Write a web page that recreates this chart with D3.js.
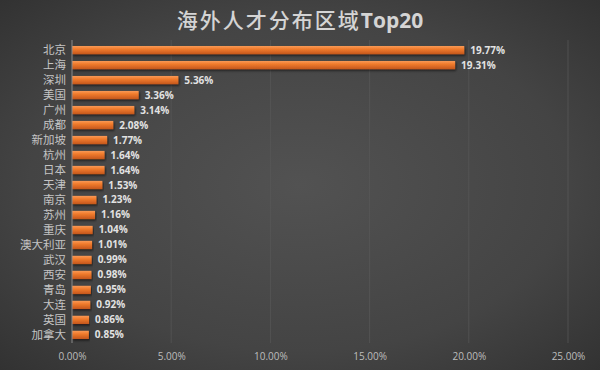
<!DOCTYPE html>
<html><head><meta charset="utf-8">
<script src="https://cdn.jsdelivr.net/npm/d3@7"></script>
<style>html,body{margin:0;padding:0;background:#333;}svg{display:block;}</style>
</head><body>
<svg id="c" width="600" height="370"></svg>
<script>
const categories = ["北京","上海","深圳","美国","广州","成都","新加坡","杭州","日本","天津","南京","苏州","重庆","澳大利亚","武汉","西安","青岛","大连","英国","加拿大"];
const values = [19.77,19.31,5.36,3.36,3.14,2.08,1.77,1.64,1.64,1.53,1.23,1.16,1.04,1.01,0.99,0.98,0.95,0.92,0.86,0.85];
const tickValues = [0,5,10,15,20,25];
const titleCJK = "海外人才分布区域";
const titleLatin = "Top20";

const W = 600, H = 370;
const svg = d3.select("#c");
const defs = svg.append("defs");
const rg = defs.append("radialGradient").attr("id","bg").attr("cx","50%").attr("cy","50%").attr("r","75%");
rg.append("stop").attr("offset","0%").attr("stop-color","#525252");
rg.append("stop").attr("offset","60%").attr("stop-color","#444444");
rg.append("stop").attr("offset","100%").attr("stop-color","#2f2f2f");
svg.append("rect").attr("width",W).attr("height",H).attr("fill","url(#bg)");

const bg = defs.append("linearGradient").attr("id","bar").attr("x1","0").attr("y1","0").attr("x2","0").attr("y2","1");
bg.append("stop").attr("offset","0%").attr("stop-color","#f89a58");
bg.append("stop").attr("offset","35%").attr("stop-color","#f27d2e");
bg.append("stop").attr("offset","100%").attr("stop-color","#c4561c");

const f = defs.append("filter").attr("id","sh").attr("x","-5%").attr("y","-50%").attr("width","110%").attr("height","200%");
f.append("feDropShadow").attr("dx",1).attr("dy",1.5).attr("stdDeviation",1).attr("flood-color","#000").attr("flood-opacity",0.6);

const x = d3.scaleLinear().domain([0,25]).range([72,568]);
const y = d3.scaleBand().domain(categories).range([43,342]).paddingInner(0.45).paddingOuter(0.2);

// grid
svg.append("g").selectAll("line").data(tickValues.slice(1)).join("line")
  .attr("x1",d=>x(d)).attr("x2",d=>x(d)).attr("y1",40).attr("y2",343)
  .attr("stroke","#595959").attr("stroke-opacity",0.7).attr("stroke-width",1);

// title
const t = svg.append("text").attr("x",300).attr("y",28).attr("text-anchor","middle")
  .attr("fill","#d4d4d4").attr("font-size",21);
t.append("tspan").attr("font-family","'Noto Sans CJK SC', sans-serif").attr("font-weight","500")
  .attr("letter-spacing",2).text(titleCJK);
t.append("tspan").attr("font-family","'Open Sans', sans-serif").attr("font-weight","bold").text(titleLatin);

// bars
svg.append("g").selectAll("rect").data(values).join("rect")
  .attr("x",x(0)).attr("y",(d,i)=>y(categories[i]))
  .attr("width",d=>x(d)-x(0)).attr("height",y.bandwidth())
  .attr("fill","url(#bar)").attr("filter","url(#sh)");

// value labels
svg.append("g").selectAll("text").data(values).join("text")
  .attr("x",d=>x(d)+6).attr("y",(d,i)=>y(categories[i])+y.bandwidth()/2)
  .attr("dy","0.35em").attr("fill","#e2e2e2")
  .attr("font-family","'Open Sans', 'Noto Sans', sans-serif").attr("font-weight","bold").attr("font-size",10)
  .text(d=>d.toFixed(2)+"%");

// y axis
const ya = svg.append("g").attr("transform",`translate(${x(0)},0)`)
  .call(d3.axisLeft(y).tickSize(0).tickPadding(6));
ya.select(".domain").attr("stroke","#8a8a8a").attr("d",`M0,40V343`);
ya.selectAll("text").attr("fill","#c4c4c4").attr("font-size",11.5)
  .attr("font-family","'Noto Sans CJK SC', sans-serif");

// x axis
const xa = svg.append("g").attr("transform","translate(0,343)")
  .call(d3.axisBottom(x).tickValues(tickValues).tickSize(0).tickPadding(10).tickFormat(d=>d.toFixed(2)+"%"));
xa.select(".domain").remove();
xa.selectAll("text").attr("fill","#bdbdbd").attr("font-size",10)
  .attr("font-family","'Open Sans', 'Noto Sans', sans-serif");
</script>
</body></html>
